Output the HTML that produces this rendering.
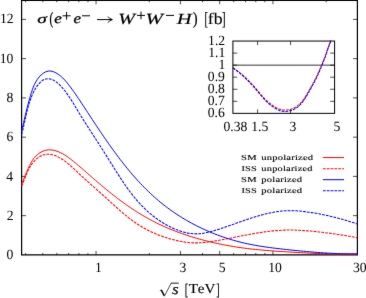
<!DOCTYPE html>
<html><head><meta charset="utf-8"><style>html,body{margin:0;padding:0;background:#fff;overflow:hidden;}svg{display:block;will-change:transform;}text{font-family:"Liberation Serif",serif;fill:#000;font-kerning:none;text-rendering:geometricPrecision;}</style></head><body>
<svg width="366" height="298" viewBox="0 0 366 298">
<defs><filter id="soft" x="0" y="0" width="366" height="298" filterUnits="userSpaceOnUse" color-interpolation-filters="sRGB"><feConvolveMatrix order="3" kernelMatrix="0.0049 0.0602 0.0049 0.0602 0.7396 0.0602 0.0049 0.0602 0.0049" divisor="1" edgeMode="duplicate" preserveAlpha="false"/></filter></defs>
<g filter="url(#soft)">
<rect x="-5" y="-5" width="376" height="308" fill="#fff"/>
<g fill="none" stroke="#000" stroke-width="1.20">
<path d="M21.60,-1.70 V254.90 H357.40 V0.30 H21.60"/>
</g><g fill="none" stroke="#000" stroke-width="0.7">
<path d="M21.60,215.65 h4.4 M357.40,215.65 h-4.4"/>
<path d="M21.60,176.40 h4.4 M357.40,176.40 h-4.4"/>
<path d="M21.60,137.15 h4.4 M357.40,137.15 h-4.4"/>
<path d="M21.60,97.90 h4.4 M357.40,97.90 h-4.4"/>
<path d="M21.60,58.65 h4.4 M357.40,58.65 h-4.4"/>
<path d="M21.60,19.40 h4.4 M357.40,19.40 h-4.4"/>
<path d="M25.65,254.90 v-2.00 M25.65,0.30 v2.00"/>
<path d="M42.80,254.90 v-2.00 M42.80,0.30 v2.00"/>
<path d="M56.80,254.90 v-2.00 M56.80,0.30 v2.00"/>
<path d="M68.65,254.90 v-2.00 M68.65,0.30 v2.00"/>
<path d="M78.91,254.90 v-2.00 M78.91,0.30 v2.00"/>
<path d="M87.96,254.90 v-2.00 M87.96,0.30 v2.00"/>
<path d="M96.05,254.90 v-4.00 M96.05,0.30 v4.00"/>
<path d="M149.30,254.90 v-2.00 M149.30,0.30 v2.00"/>
<path d="M180.45,254.90 v-4.00 M180.45,0.30 v4.00"/>
<path d="M202.55,254.90 v-2.00 M202.55,0.30 v2.00"/>
<path d="M219.70,254.90 v-4.00 M219.70,0.30 v4.00"/>
<path d="M233.70,254.90 v-2.00 M233.70,0.30 v2.00"/>
<path d="M245.55,254.90 v-2.00 M245.55,0.30 v2.00"/>
<path d="M255.81,254.90 v-2.00 M255.81,0.30 v2.00"/>
<path d="M264.86,254.90 v-2.00 M264.86,0.30 v2.00"/>
<path d="M272.95,254.90 v-4.00 M272.95,0.30 v4.00"/>
<path d="M326.20,254.90 v-2.00 M326.20,0.30 v2.00"/>
</g>
<g fill="none" stroke-width="1.00">
<path d="M21.60,184.10 C21.71,183.83 22.07,183.00 22.30,182.46 C22.53,181.92 22.75,181.38 22.97,180.85 C23.19,180.31 23.41,179.78 23.63,179.26 C23.85,178.73 24.06,178.21 24.28,177.69 C24.49,177.17 24.70,176.65 24.92,176.13 C25.13,175.62 25.34,175.11 25.56,174.59 C25.77,174.08 25.99,173.57 26.20,173.06 C26.42,172.54 26.64,172.03 26.86,171.52 C27.09,171.01 27.31,170.50 27.54,169.99 C27.77,169.47 28.00,168.96 28.24,168.44 C28.47,167.93 28.72,167.41 28.96,166.89 C29.21,166.37 29.47,165.85 29.73,165.33 C29.99,164.80 30.25,164.27 30.53,163.74 C30.80,163.21 31.09,162.67 31.38,162.14 C31.68,161.61 31.99,161.07 32.32,160.54 C32.65,160.01 32.99,159.48 33.36,158.96 C33.73,158.44 34.12,157.93 34.54,157.43 C34.95,156.92 35.39,156.43 35.87,155.95 C36.35,155.47 36.85,155.00 37.40,154.55 C37.94,154.10 38.52,153.66 39.14,153.25 C39.76,152.84 40.42,152.43 41.12,152.07 C41.82,151.70 42.57,151.35 43.33,151.05 C44.10,150.75 44.91,150.48 45.72,150.28 C46.54,150.08 47.38,149.93 48.23,149.85 C49.08,149.77 49.94,149.77 50.80,149.83 C51.66,149.88 52.53,150.02 53.38,150.19 C54.22,150.36 55.08,150.60 55.90,150.85 C56.72,151.10 57.53,151.40 58.31,151.71 C59.09,152.02 59.85,152.35 60.58,152.70 C61.32,153.05 62.03,153.42 62.72,153.80 C63.42,154.18 64.09,154.58 64.75,154.98 C65.40,155.39 66.04,155.81 66.67,156.24 C67.30,156.67 67.91,157.10 68.51,157.54 C69.11,157.98 69.69,158.43 70.28,158.87 C70.86,159.32 71.43,159.77 71.99,160.22 C72.56,160.67 73.11,161.11 73.67,161.56 C74.22,162.01 74.76,162.45 75.31,162.90 C75.85,163.34 76.38,163.79 76.92,164.23 C77.45,164.68 77.98,165.12 78.50,165.57 C79.03,166.01 79.55,166.46 80.06,166.90 C80.58,167.35 81.10,167.79 81.61,168.24 C82.13,168.68 82.64,169.12 83.15,169.57 C83.66,170.01 84.17,170.46 84.68,170.91 C85.19,171.35 85.70,171.80 86.21,172.24 C86.72,172.69 87.23,173.14 87.75,173.59 C88.26,174.03 88.77,174.48 89.28,174.93 C89.80,175.38 90.31,175.83 90.83,176.28 C91.34,176.73 91.86,177.18 92.38,177.63 C92.89,178.08 93.41,178.53 93.93,178.98 C94.45,179.43 94.97,179.88 95.49,180.33 C96.02,180.78 96.54,181.23 97.06,181.68 C97.59,182.13 98.11,182.58 98.64,183.03 C99.17,183.48 99.70,183.93 100.23,184.37 C100.76,184.82 101.29,185.27 101.82,185.72 C102.36,186.17 102.89,186.62 103.43,187.07 C103.96,187.52 104.50,187.96 105.04,188.41 C105.58,188.86 106.12,189.31 106.67,189.75 C107.21,190.20 107.76,190.64 108.30,191.09 C108.85,191.53 109.40,191.98 109.95,192.42 C110.50,192.87 111.06,193.31 111.61,193.75 C112.17,194.19 112.73,194.63 113.29,195.07 C113.85,195.51 114.41,195.95 114.97,196.39 C115.54,196.83 116.10,197.27 116.67,197.70 C117.24,198.14 117.81,198.58 118.39,199.01 C118.96,199.44 119.54,199.88 120.12,200.31 C120.70,200.74 121.28,201.17 121.86,201.60 C122.45,202.03 123.04,202.46 123.63,202.88 C124.22,203.31 124.81,203.73 125.41,204.16 C126.00,204.58 126.60,205.00 127.20,205.42 C127.80,205.84 128.41,206.26 129.02,206.68 C129.62,207.10 130.24,207.51 130.85,207.92 C131.46,208.34 132.08,208.75 132.70,209.16 C133.32,209.57 133.95,209.98 134.57,210.38 C135.20,210.79 135.83,211.19 136.46,211.60 C137.10,212.00 137.74,212.40 138.38,212.80 C139.02,213.19 139.66,213.59 140.31,213.98 C140.96,214.38 141.61,214.77 142.26,215.16 C142.92,215.55 143.58,215.93 144.24,216.32 C144.90,216.70 145.57,217.08 146.24,217.46 C146.91,217.84 147.59,218.22 148.26,218.60 C148.94,218.97 149.63,219.34 150.31,219.71 C151.00,220.08 151.69,220.45 152.38,220.81 C153.08,221.18 153.78,221.54 154.48,221.90 C155.18,222.26 155.89,222.61 156.60,222.97 C157.32,223.32 158.03,223.67 158.75,224.02 C159.47,224.36 160.20,224.71 160.93,225.05 C161.66,225.39 162.39,225.73 163.13,226.06 C163.87,226.40 164.61,226.73 165.36,227.06 C166.11,227.39 166.86,227.71 167.62,228.04 C168.38,228.36 169.14,228.68 169.90,228.99 C170.67,229.31 171.44,229.62 172.21,229.93 C172.99,230.24 173.76,230.55 174.55,230.85 C175.33,231.16 176.11,231.46 176.90,231.75 C177.69,232.05 178.49,232.35 179.28,232.64 C180.08,232.93 180.88,233.21 181.69,233.50 C182.49,233.78 183.30,234.06 184.12,234.34 C184.93,234.62 185.75,234.89 186.56,235.17 C187.38,235.44 188.21,235.70 189.03,235.97 C189.86,236.23 190.69,236.50 191.52,236.75 C192.36,237.01 193.19,237.27 194.03,237.52 C194.87,237.77 195.72,238.02 196.56,238.26 C197.41,238.51 198.26,238.75 199.11,238.99 C199.96,239.23 200.81,239.46 201.67,239.70 C202.53,239.93 203.39,240.16 204.25,240.38 C205.11,240.61 205.98,240.83 206.85,241.05 C207.72,241.26 208.59,241.48 209.46,241.69 C210.34,241.90 211.21,242.11 212.09,242.31 C212.97,242.52 213.85,242.72 214.73,242.92 C215.61,243.12 216.50,243.31 217.39,243.50 C218.27,243.69 219.16,243.88 220.06,244.06 C220.95,244.25 221.84,244.43 222.74,244.61 C223.63,244.78 224.53,244.96 225.43,245.13 C226.33,245.30 227.23,245.46 228.13,245.63 C229.04,245.79 229.94,245.95 230.85,246.11 C231.75,246.26 232.66,246.41 233.57,246.56 C234.48,246.71 235.39,246.86 236.30,247.00 C237.21,247.14 238.13,247.28 239.04,247.41 C239.96,247.55 240.87,247.68 241.79,247.81 C242.71,247.93 243.63,248.06 244.55,248.18 C245.47,248.30 246.39,248.41 247.31,248.53 C248.23,248.64 249.15,248.75 250.08,248.86 C251.00,248.96 251.92,249.07 252.85,249.17 C253.78,249.27 254.70,249.36 255.63,249.46 C256.56,249.55 257.49,249.65 258.41,249.73 C259.34,249.82 260.27,249.91 261.21,249.99 C262.14,250.08 263.07,250.16 264.00,250.24 C264.93,250.32 265.87,250.40 266.80,250.47 C267.73,250.55 268.67,250.62 269.60,250.69 C270.54,250.76 271.48,250.83 272.41,250.90 C273.35,250.97 274.29,251.04 275.23,251.10 C276.16,251.17 277.10,251.23 278.04,251.29 C278.98,251.36 279.92,251.42 280.86,251.48 C281.80,251.54 282.74,251.60 283.68,251.66 C284.63,251.72 285.57,251.77 286.51,251.83 C287.45,251.89 288.39,251.94 289.34,252.00 C290.28,252.06 291.23,252.11 292.17,252.17 C293.11,252.22 294.06,252.28 295.00,252.33 C295.95,252.39 296.89,252.44 297.84,252.50 C298.78,252.55 299.73,252.60 300.67,252.65 C301.62,252.71 302.57,252.76 303.51,252.81 C304.46,252.86 305.41,252.91 306.35,252.96 C307.30,253.01 308.25,253.05 309.19,253.10 C310.14,253.15 311.09,253.19 312.03,253.24 C312.98,253.28 313.93,253.33 314.88,253.37 C315.82,253.41 316.77,253.46 317.72,253.50 C318.67,253.54 319.61,253.58 320.56,253.61 C321.51,253.65 322.46,253.69 323.40,253.72 C324.35,253.76 325.30,253.79 326.24,253.82 C327.19,253.86 328.14,253.89 329.09,253.92 C330.03,253.94 330.98,253.97 331.93,254.00 C332.87,254.02 333.82,254.05 334.76,254.07 C335.71,254.09 336.66,254.11 337.60,254.13 C338.55,254.15 339.49,254.17 340.44,254.18 C341.38,254.20 342.33,254.21 343.27,254.22 C344.21,254.23 345.16,254.24 346.10,254.24 C347.04,254.25 347.99,254.26 348.93,254.26 C349.87,254.26 350.81,254.26 351.76,254.26 C352.70,254.25 353.64,254.25 354.58,254.24 C355.52,254.24 356.93,254.22 357.40,254.21" stroke="#f00"/>
<path d="M21.60,186.10 C21.72,185.83 22.11,185.02 22.35,184.48 C22.59,183.94 22.82,183.40 23.05,182.87 C23.27,182.33 23.48,181.80 23.69,181.27 C23.91,180.74 24.11,180.21 24.31,179.69 C24.51,179.16 24.71,178.64 24.91,178.12 C25.11,177.59 25.30,177.07 25.50,176.55 C25.70,176.03 25.90,175.51 26.10,174.99 C26.31,174.47 26.52,173.96 26.73,173.44 C26.95,172.92 27.17,172.41 27.40,171.89 C27.63,171.37 27.87,170.86 28.12,170.34 C28.37,169.83 28.63,169.31 28.90,168.80 C29.17,168.28 29.46,167.76 29.76,167.25 C30.07,166.73 30.39,166.21 30.72,165.69 C31.06,165.18 31.41,164.66 31.79,164.14 C32.17,163.62 32.56,163.10 32.98,162.58 C33.40,162.06 33.84,161.55 34.31,161.05 C34.77,160.54 35.27,160.04 35.79,159.56 C36.31,159.08 36.85,158.61 37.43,158.17 C38.01,157.72 38.62,157.28 39.26,156.88 C39.90,156.47 40.57,156.08 41.28,155.73 C41.99,155.39 42.73,155.07 43.51,154.84 C44.30,154.60 45.12,154.43 45.97,154.34 C46.81,154.24 47.70,154.23 48.58,154.27 C49.46,154.31 50.37,154.42 51.25,154.57 C52.12,154.73 53.01,154.94 53.85,155.19 C54.69,155.43 55.50,155.73 56.28,156.05 C57.06,156.37 57.80,156.73 58.52,157.11 C59.24,157.48 59.93,157.88 60.61,158.29 C61.28,158.69 61.93,159.11 62.56,159.53 C63.20,159.96 63.81,160.38 64.41,160.82 C65.02,161.25 65.60,161.68 66.18,162.12 C66.75,162.56 67.31,163.01 67.86,163.46 C68.41,163.90 68.94,164.36 69.47,164.81 C70.00,165.26 70.52,165.72 71.03,166.18 C71.55,166.64 72.05,167.10 72.55,167.56 C73.05,168.02 73.55,168.49 74.04,168.95 C74.53,169.41 75.02,169.88 75.51,170.34 C76.00,170.81 76.48,171.27 76.97,171.73 C77.46,172.20 77.95,172.66 78.44,173.12 C78.93,173.58 79.42,174.05 79.92,174.51 C80.41,174.97 80.91,175.42 81.41,175.88 C81.91,176.34 82.40,176.80 82.91,177.26 C83.41,177.71 83.91,178.17 84.41,178.63 C84.91,179.08 85.42,179.54 85.92,179.99 C86.43,180.45 86.94,180.90 87.44,181.36 C87.95,181.81 88.46,182.26 88.97,182.72 C89.48,183.17 89.99,183.62 90.50,184.08 C91.01,184.53 91.52,184.98 92.03,185.44 C92.54,185.89 93.06,186.34 93.57,186.80 C94.08,187.25 94.60,187.70 95.11,188.16 C95.62,188.61 96.14,189.06 96.65,189.52 C97.16,189.97 97.68,190.43 98.19,190.88 C98.70,191.33 99.22,191.79 99.73,192.25 C100.24,192.70 100.75,193.16 101.27,193.61 C101.78,194.07 102.29,194.53 102.80,194.99 C103.31,195.44 103.83,195.90 104.34,196.36 C104.85,196.82 105.36,197.28 105.87,197.74 C106.37,198.20 106.88,198.67 107.39,199.13 C107.90,199.59 108.40,200.06 108.91,200.52 C109.42,200.98 109.92,201.45 110.43,201.92 C110.94,202.38 111.44,202.85 111.95,203.31 C112.46,203.78 112.97,204.24 113.47,204.71 C113.98,205.17 114.49,205.64 115.01,206.10 C115.52,206.57 116.03,207.03 116.54,207.50 C117.06,207.96 117.57,208.42 118.09,208.88 C118.61,209.35 119.13,209.81 119.66,210.27 C120.18,210.73 120.71,211.19 121.23,211.64 C121.76,212.10 122.29,212.56 122.83,213.01 C123.37,213.46 123.90,213.92 124.45,214.37 C124.99,214.82 125.54,215.27 126.09,215.71 C126.64,216.16 127.19,216.60 127.75,217.05 C128.31,217.49 128.87,217.93 129.44,218.36 C130.01,218.80 130.58,219.24 131.16,219.67 C131.74,220.10 132.33,220.53 132.92,220.95 C133.51,221.38 134.10,221.80 134.71,222.22 C135.31,222.64 135.92,223.05 136.53,223.46 C137.15,223.88 137.77,224.28 138.40,224.69 C139.02,225.09 139.66,225.49 140.30,225.89 C140.95,226.28 141.60,226.68 142.25,227.06 C142.91,227.45 143.58,227.83 144.25,228.21 C144.93,228.59 145.61,228.97 146.30,229.34 C146.99,229.70 147.69,230.07 148.40,230.43 C149.10,230.79 149.82,231.14 150.55,231.49 C151.27,231.84 152.01,232.18 152.75,232.52 C153.50,232.86 154.25,233.19 155.01,233.51 C155.78,233.84 156.55,234.16 157.32,234.48 C158.10,234.79 158.89,235.10 159.68,235.40 C160.48,235.70 161.28,236.00 162.09,236.29 C162.90,236.57 163.72,236.86 164.55,237.13 C165.37,237.41 166.21,237.68 167.05,237.94 C167.88,238.20 168.73,238.45 169.59,238.70 C170.44,238.95 171.30,239.19 172.17,239.42 C173.03,239.65 173.91,239.88 174.78,240.09 C175.66,240.31 176.55,240.51 177.44,240.71 C178.33,240.91 179.22,241.09 180.12,241.27 C181.02,241.44 181.93,241.61 182.83,241.75 C183.74,241.90 184.65,242.04 185.57,242.17 C186.49,242.29 187.41,242.40 188.33,242.49 C189.25,242.58 190.18,242.66 191.10,242.72 C192.03,242.79 192.96,242.83 193.89,242.86 C194.83,242.88 195.76,242.89 196.70,242.88 C197.63,242.87 198.57,242.84 199.50,242.80 C200.44,242.75 201.38,242.69 202.32,242.62 C203.25,242.55 204.19,242.46 205.13,242.36 C206.07,242.26 207.00,242.15 207.94,242.03 C208.87,241.91 209.81,241.78 210.74,241.64 C211.67,241.50 212.61,241.35 213.53,241.20 C214.46,241.05 215.39,240.89 216.32,240.73 C217.24,240.57 218.16,240.41 219.08,240.24 C220.00,240.08 220.91,239.91 221.83,239.74 C222.74,239.57 223.65,239.39 224.56,239.22 C225.46,239.05 226.37,238.87 227.27,238.70 C228.18,238.52 229.08,238.34 229.98,238.17 C230.88,237.99 231.78,237.81 232.68,237.63 C233.58,237.46 234.47,237.28 235.37,237.10 C236.27,236.92 237.16,236.74 238.06,236.57 C238.95,236.39 239.85,236.21 240.74,236.04 C241.63,235.86 242.53,235.69 243.42,235.51 C244.32,235.34 245.21,235.17 246.11,235.00 C247.00,234.83 247.90,234.66 248.80,234.50 C249.70,234.33 250.59,234.17 251.49,234.01 C252.39,233.84 253.29,233.69 254.20,233.53 C255.10,233.38 256.00,233.22 256.91,233.07 C257.82,232.93 258.73,232.78 259.64,232.64 C260.55,232.50 261.46,232.36 262.38,232.23 C263.29,232.09 264.21,231.96 265.13,231.84 C266.05,231.71 266.98,231.60 267.90,231.48 C268.83,231.37 269.75,231.26 270.68,231.16 C271.61,231.05 272.54,230.95 273.47,230.86 C274.40,230.77 275.34,230.69 276.27,230.61 C277.21,230.53 278.15,230.46 279.08,230.40 C280.02,230.34 280.96,230.28 281.90,230.23 C282.84,230.18 283.78,230.14 284.73,230.11 C285.67,230.08 286.61,230.06 287.56,230.04 C288.50,230.03 289.45,230.02 290.39,230.02 C291.34,230.03 292.29,230.04 293.24,230.06 C294.18,230.08 295.13,230.11 296.08,230.15 C297.03,230.19 297.98,230.23 298.92,230.28 C299.87,230.33 300.82,230.39 301.77,230.45 C302.72,230.51 303.67,230.57 304.62,230.64 C305.57,230.71 306.52,230.78 307.46,230.86 C308.41,230.93 309.36,231.01 310.31,231.10 C311.26,231.18 312.20,231.27 313.15,231.35 C314.10,231.44 315.04,231.54 315.99,231.63 C316.93,231.73 317.88,231.83 318.82,231.93 C319.76,232.03 320.70,232.13 321.65,232.24 C322.59,232.35 323.53,232.46 324.47,232.57 C325.40,232.69 326.34,232.80 327.28,232.92 C328.21,233.04 329.15,233.16 330.08,233.29 C331.01,233.41 331.94,233.54 332.87,233.67 C333.80,233.80 334.73,233.93 335.65,234.07 C336.58,234.20 337.50,234.34 338.42,234.48 C339.35,234.62 340.27,234.76 341.18,234.91 C342.10,235.05 343.01,235.20 343.93,235.35 C344.84,235.49 345.75,235.65 346.65,235.80 C347.56,235.95 348.46,236.11 349.37,236.26 C350.27,236.42 351.17,236.58 352.06,236.74 C352.96,236.90 353.85,237.07 354.74,237.23 C355.63,237.40 356.96,237.65 357.40,237.73" stroke="#f00" stroke-width="1.05" stroke-dasharray="2.8 1.06"/>
<path d="M21.60,131.00 C21.71,130.52 22.07,129.08 22.30,128.13 C22.53,127.18 22.75,126.24 22.97,125.31 C23.19,124.37 23.41,123.45 23.63,122.53 C23.85,121.61 24.06,120.69 24.28,119.78 C24.49,118.87 24.70,117.96 24.92,117.06 C25.13,116.16 25.34,115.26 25.56,114.36 C25.77,113.46 25.99,112.57 26.20,111.67 C26.42,110.78 26.64,109.88 26.86,108.99 C27.09,108.09 27.31,107.20 27.54,106.30 C27.77,105.40 28.00,104.51 28.24,103.60 C28.47,102.70 28.72,101.80 28.96,100.89 C29.21,99.98 29.47,99.06 29.73,98.15 C29.99,97.23 30.25,96.30 30.53,95.37 C30.80,94.44 31.09,93.50 31.38,92.57 C31.68,91.64 31.99,90.70 32.32,89.77 C32.65,88.85 32.99,87.92 33.36,87.01 C33.73,86.10 34.12,85.20 34.54,84.32 C34.95,83.44 35.39,82.57 35.87,81.74 C36.35,80.90 36.85,80.08 37.40,79.29 C37.94,78.50 38.52,77.74 39.14,77.01 C39.76,76.29 40.42,75.58 41.12,74.94 C41.82,74.30 42.57,73.68 43.33,73.16 C44.10,72.64 44.91,72.17 45.72,71.82 C46.54,71.47 47.38,71.20 48.23,71.06 C49.08,70.93 49.94,70.92 50.80,71.02 C51.66,71.12 52.53,71.36 53.38,71.66 C54.22,71.96 55.08,72.37 55.90,72.81 C56.72,73.26 57.53,73.78 58.31,74.32 C59.09,74.86 59.85,75.44 60.58,76.05 C61.32,76.66 62.03,77.31 62.72,77.97 C63.42,78.64 64.09,79.34 64.75,80.05 C65.40,80.76 66.04,81.50 66.67,82.24 C67.30,82.99 67.91,83.75 68.51,84.52 C69.11,85.29 69.69,86.08 70.28,86.86 C70.86,87.64 71.43,88.42 71.99,89.21 C72.56,89.99 73.11,90.77 73.67,91.55 C74.22,92.34 74.76,93.12 75.31,93.90 C75.85,94.68 76.38,95.45 76.92,96.23 C77.45,97.01 77.98,97.79 78.50,98.57 C79.03,99.35 79.55,100.12 80.06,100.90 C80.58,101.68 81.10,102.46 81.61,103.24 C82.13,104.01 82.64,104.79 83.15,105.57 C83.66,106.35 84.17,107.13 84.68,107.91 C85.19,108.69 85.70,109.47 86.21,110.25 C86.72,111.04 87.23,111.82 87.75,112.60 C88.26,113.38 88.77,114.17 89.28,114.95 C89.80,115.74 90.31,116.52 90.83,117.31 C91.34,118.10 91.86,118.88 92.38,119.67 C92.89,120.46 93.41,121.24 93.93,122.03 C94.45,122.82 94.97,123.61 95.49,124.39 C96.02,125.18 96.54,125.97 97.06,126.76 C97.59,127.55 98.11,128.33 98.64,129.12 C99.17,129.91 99.70,130.69 100.23,131.48 C100.76,132.27 101.29,133.05 101.82,133.84 C102.36,134.62 102.89,135.41 103.43,136.19 C103.96,136.98 104.50,137.76 105.04,138.55 C105.58,139.33 106.12,140.11 106.67,140.89 C107.21,141.67 107.76,142.45 108.30,143.23 C108.85,144.01 109.40,144.79 109.95,145.56 C110.50,146.34 111.06,147.11 111.61,147.89 C112.17,148.66 112.73,149.43 113.29,150.20 C113.85,150.98 114.41,151.74 114.97,152.51 C115.54,153.28 116.10,154.04 116.67,154.81 C117.24,155.57 117.81,156.33 118.39,157.09 C118.96,157.85 119.54,158.61 120.12,159.36 C120.70,160.12 121.28,160.87 121.86,161.62 C122.45,162.38 123.04,163.12 123.63,163.87 C124.22,164.62 124.81,165.36 125.41,166.10 C126.00,166.84 126.60,167.58 127.20,168.31 C127.80,169.05 128.41,169.78 129.02,170.51 C129.62,171.24 130.24,171.97 130.85,172.69 C131.46,173.42 132.08,174.14 132.70,174.85 C133.32,175.57 133.95,176.28 134.57,177.00 C135.20,177.71 135.83,178.41 136.46,179.12 C137.10,179.82 137.74,180.52 138.38,181.22 C139.02,181.91 139.66,182.61 140.31,183.30 C140.96,183.98 141.61,184.67 142.26,185.35 C142.92,186.03 143.58,186.71 144.24,187.38 C144.90,188.05 145.57,188.72 146.24,189.39 C146.91,190.05 147.59,190.71 148.26,191.37 C148.94,192.02 149.63,192.68 150.31,193.32 C151.00,193.97 151.69,194.61 152.38,195.25 C153.08,195.89 153.78,196.52 154.48,197.15 C155.18,197.77 155.89,198.40 156.60,199.01 C157.32,199.63 158.03,200.25 158.75,200.85 C159.47,201.46 160.20,202.06 160.93,202.66 C161.66,203.26 162.39,203.85 163.13,204.44 C163.87,205.02 164.61,205.60 165.36,206.18 C166.11,206.75 166.86,207.32 167.62,207.89 C168.38,208.45 169.14,209.01 169.90,209.56 C170.67,210.12 171.44,210.67 172.21,211.21 C172.99,211.75 173.76,212.29 174.55,212.82 C175.33,213.35 176.11,213.87 176.90,214.39 C177.69,214.91 178.49,215.43 179.28,215.94 C180.08,216.45 180.88,216.95 181.69,217.45 C182.49,217.94 183.30,218.44 184.12,218.92 C184.93,219.41 185.75,219.89 186.56,220.36 C187.38,220.84 188.21,221.31 189.03,221.77 C189.86,222.24 190.69,222.69 191.52,223.14 C192.36,223.60 193.19,224.04 194.03,224.48 C194.87,224.92 195.72,225.36 196.56,225.79 C197.41,226.22 198.26,226.64 199.11,227.06 C199.96,227.47 200.81,227.89 201.67,228.29 C202.53,228.70 203.39,229.10 204.25,229.49 C205.11,229.88 205.98,230.27 206.85,230.65 C207.72,231.04 208.59,231.41 209.46,231.78 C210.34,232.15 211.21,232.52 212.09,232.88 C212.97,233.23 213.85,233.59 214.73,233.93 C215.61,234.28 216.50,234.62 217.39,234.95 C218.27,235.29 219.16,235.62 220.06,235.94 C220.95,236.26 221.84,236.58 222.74,236.89 C223.63,237.20 224.53,237.50 225.43,237.80 C226.33,238.10 227.23,238.39 228.13,238.67 C229.04,238.96 229.94,239.24 230.85,239.51 C231.75,239.78 232.66,240.05 233.57,240.31 C234.48,240.57 235.39,240.83 236.30,241.07 C237.21,241.32 238.13,241.56 239.04,241.80 C239.96,242.03 240.87,242.26 241.79,242.49 C242.71,242.71 243.63,242.93 244.55,243.14 C245.47,243.35 246.39,243.55 247.31,243.75 C248.23,243.95 249.15,244.14 250.08,244.32 C251.00,244.51 251.92,244.69 252.85,244.87 C253.78,245.04 254.70,245.21 255.63,245.38 C256.56,245.54 257.49,245.70 258.41,245.86 C259.34,246.02 260.27,246.17 261.21,246.32 C262.14,246.46 263.07,246.61 264.00,246.74 C264.93,246.88 265.87,247.02 266.80,247.15 C267.73,247.28 268.67,247.41 269.60,247.54 C270.54,247.66 271.48,247.78 272.41,247.90 C273.35,248.02 274.29,248.14 275.23,248.25 C276.16,248.37 277.10,248.48 278.04,248.59 C278.98,248.70 279.92,248.81 280.86,248.91 C281.80,249.02 282.74,249.12 283.68,249.23 C284.63,249.33 285.57,249.43 286.51,249.53 C287.45,249.63 288.39,249.73 289.34,249.83 C290.28,249.93 291.23,250.02 292.17,250.12 C293.11,250.22 294.06,250.31 295.00,250.41 C295.95,250.50 296.89,250.60 297.84,250.69 C298.78,250.79 299.73,250.88 300.67,250.97 C301.62,251.06 302.57,251.15 303.51,251.24 C304.46,251.33 305.41,251.42 306.35,251.50 C307.30,251.59 308.25,251.67 309.19,251.75 C310.14,251.84 311.09,251.92 312.03,251.99 C312.98,252.07 313.93,252.15 314.88,252.23 C315.82,252.30 316.77,252.37 317.72,252.44 C318.67,252.51 319.61,252.58 320.56,252.65 C321.51,252.72 322.46,252.78 323.40,252.84 C324.35,252.90 325.30,252.96 326.24,253.02 C327.19,253.07 328.14,253.13 329.09,253.18 C330.03,253.23 330.98,253.28 331.93,253.32 C332.87,253.37 333.82,253.41 334.76,253.45 C335.71,253.49 336.66,253.52 337.60,253.55 C338.55,253.59 339.49,253.62 340.44,253.64 C341.38,253.67 342.33,253.69 343.27,253.71 C344.21,253.73 345.16,253.74 346.10,253.75 C347.04,253.76 347.99,253.77 348.93,253.78 C349.87,253.78 350.81,253.78 351.76,253.78 C352.70,253.77 353.64,253.76 354.58,253.75 C355.52,253.74 356.93,253.71 357.40,253.70" stroke="#00f"/>
<path d="M21.60,134.50 C21.72,134.03 22.11,132.60 22.35,131.66 C22.59,130.72 22.82,129.78 23.05,128.84 C23.27,127.91 23.48,126.98 23.69,126.05 C23.91,125.12 24.11,124.20 24.31,123.28 C24.51,122.36 24.71,121.44 24.91,120.53 C25.11,119.61 25.30,118.70 25.50,117.79 C25.70,116.88 25.90,115.97 26.10,115.06 C26.31,114.15 26.52,113.25 26.73,112.34 C26.95,111.44 27.17,110.54 27.40,109.63 C27.63,108.73 27.87,107.83 28.12,106.92 C28.37,106.02 28.63,105.12 28.90,104.22 C29.17,103.31 29.46,102.41 29.76,101.51 C30.07,100.60 30.39,99.70 30.72,98.79 C31.06,97.88 31.41,96.97 31.79,96.07 C32.17,95.16 32.56,94.24 32.98,93.34 C33.40,92.44 33.84,91.53 34.31,90.66 C34.77,89.78 35.27,88.90 35.79,88.06 C36.31,87.22 36.85,86.40 37.43,85.62 C38.01,84.83 38.62,84.07 39.26,83.36 C39.90,82.65 40.57,81.96 41.28,81.36 C41.99,80.76 42.73,80.19 43.51,79.79 C44.30,79.38 45.12,79.08 45.97,78.91 C46.81,78.75 47.70,78.72 48.58,78.79 C49.46,78.86 50.37,79.06 51.25,79.33 C52.12,79.60 53.01,79.97 53.85,80.40 C54.69,80.84 55.50,81.36 56.28,81.92 C57.06,82.48 57.80,83.11 58.52,83.76 C59.24,84.41 59.93,85.12 60.61,85.83 C61.28,86.54 61.93,87.27 62.56,88.01 C63.20,88.75 63.81,89.50 64.41,90.25 C65.02,91.01 65.60,91.77 66.18,92.54 C66.75,93.31 67.31,94.09 67.86,94.88 C68.41,95.66 68.94,96.45 69.47,97.24 C70.00,98.04 70.52,98.84 71.03,99.64 C71.55,100.44 72.05,101.25 72.55,102.06 C73.05,102.86 73.55,103.67 74.04,104.49 C74.53,105.30 75.02,106.11 75.51,106.92 C76.00,107.74 76.48,108.55 76.97,109.36 C77.46,110.17 77.95,110.98 78.44,111.79 C78.93,112.60 79.42,113.40 79.92,114.21 C80.41,115.01 80.91,115.82 81.41,116.62 C81.91,117.42 82.40,118.22 82.91,119.02 C83.41,119.82 83.91,120.62 84.41,121.42 C84.91,122.22 85.42,123.01 85.92,123.81 C86.43,124.61 86.94,125.40 87.44,126.20 C87.95,126.99 88.46,127.79 88.97,128.58 C89.48,129.37 89.99,130.17 90.50,130.96 C91.01,131.75 91.52,132.55 92.03,133.34 C92.54,134.13 93.06,134.92 93.57,135.72 C94.08,136.51 94.60,137.30 95.11,138.10 C95.62,138.89 96.14,139.69 96.65,140.48 C97.16,141.27 97.68,142.07 98.19,142.86 C98.70,143.66 99.22,144.46 99.73,145.25 C100.24,146.05 100.75,146.85 101.27,147.65 C101.78,148.45 102.29,149.25 102.80,150.05 C103.31,150.85 103.83,151.65 104.34,152.46 C104.85,153.26 105.36,154.07 105.87,154.87 C106.37,155.68 106.88,156.49 107.39,157.30 C107.90,158.11 108.40,158.92 108.91,159.74 C109.42,160.55 109.92,161.36 110.43,162.18 C110.94,162.99 111.44,163.81 111.95,164.62 C112.46,165.43 112.97,166.25 113.47,167.06 C113.98,167.88 114.49,168.69 115.01,169.51 C115.52,170.32 116.03,171.13 116.54,171.94 C117.06,172.75 117.57,173.56 118.09,174.37 C118.61,175.18 119.13,175.99 119.66,176.79 C120.18,177.60 120.71,178.40 121.23,179.20 C121.76,180.00 122.29,180.80 122.83,181.59 C123.37,182.39 123.90,183.18 124.45,183.97 C124.99,184.76 125.54,185.54 126.09,186.32 C126.64,187.11 127.19,187.88 127.75,188.66 C128.31,189.43 128.87,190.20 129.44,190.96 C130.01,191.73 130.58,192.49 131.16,193.24 C131.74,194.00 132.33,194.75 132.92,195.49 C133.51,196.24 134.10,196.97 134.71,197.71 C135.31,198.44 135.92,199.17 136.53,199.89 C137.15,200.61 137.77,201.32 138.40,202.03 C139.02,202.74 139.66,203.44 140.30,204.13 C140.95,204.82 141.60,205.51 142.25,206.19 C142.91,206.87 143.58,207.54 144.25,208.20 C144.93,208.86 145.61,209.52 146.30,210.16 C146.99,210.81 147.69,211.44 148.40,212.07 C149.10,212.70 149.82,213.32 150.55,213.93 C151.27,214.54 152.01,215.14 152.75,215.73 C153.50,216.32 154.25,216.90 155.01,217.48 C155.78,218.05 156.55,218.61 157.32,219.16 C158.10,219.71 158.89,220.25 159.68,220.77 C160.48,221.30 161.28,221.82 162.09,222.32 C162.90,222.83 163.72,223.32 164.55,223.81 C165.37,224.29 166.21,224.76 167.05,225.22 C167.88,225.67 168.73,226.12 169.59,226.55 C170.44,226.98 171.30,227.40 172.17,227.81 C173.03,228.21 173.91,228.61 174.78,228.98 C175.66,229.36 176.55,229.72 177.44,230.07 C178.33,230.41 179.22,230.74 180.12,231.04 C181.02,231.35 181.93,231.63 182.83,231.90 C183.74,232.16 184.65,232.40 185.57,232.62 C186.49,232.83 187.41,233.02 188.33,233.19 C189.25,233.35 190.18,233.49 191.10,233.59 C192.03,233.70 192.96,233.78 193.89,233.83 C194.83,233.87 195.76,233.88 196.70,233.87 C197.63,233.85 198.57,233.80 199.50,233.72 C200.44,233.64 201.38,233.53 202.32,233.40 C203.25,233.27 204.19,233.11 205.13,232.94 C206.07,232.76 207.00,232.56 207.94,232.34 C208.87,232.13 209.81,231.89 210.74,231.65 C211.67,231.40 212.61,231.14 213.53,230.87 C214.46,230.60 215.39,230.32 216.32,230.03 C217.24,229.75 218.16,229.45 219.08,229.16 C220.00,228.86 220.91,228.56 221.83,228.26 C222.74,227.96 223.65,227.65 224.56,227.34 C225.46,227.03 226.37,226.72 227.27,226.40 C228.18,226.09 229.08,225.77 229.98,225.46 C230.88,225.14 231.78,224.82 232.68,224.50 C233.58,224.19 234.47,223.87 235.37,223.55 C236.27,223.23 237.16,222.91 238.06,222.59 C238.95,222.28 239.85,221.96 240.74,221.64 C241.63,221.33 242.53,221.02 243.42,220.71 C244.32,220.40 245.21,220.09 246.11,219.78 C247.00,219.48 247.90,219.17 248.80,218.88 C249.70,218.58 250.59,218.28 251.49,217.99 C252.39,217.70 253.29,217.42 254.20,217.14 C255.10,216.85 256.00,216.58 256.91,216.31 C257.82,216.04 258.73,215.78 259.64,215.52 C260.55,215.26 261.46,215.01 262.38,214.77 C263.29,214.53 264.21,214.29 265.13,214.06 C266.05,213.84 266.98,213.62 267.90,213.41 C268.83,213.20 269.75,213.00 270.68,212.81 C271.61,212.62 272.54,212.44 273.47,212.27 C274.40,212.11 275.34,211.95 276.27,211.80 C277.21,211.66 278.15,211.53 279.08,211.41 C280.02,211.29 280.96,211.18 281.90,211.09 C282.84,211.00 283.78,210.92 284.73,210.85 C285.67,210.79 286.61,210.74 287.56,210.70 C288.50,210.67 289.45,210.65 290.39,210.65 C291.34,210.65 292.29,210.67 293.24,210.70 C294.18,210.73 295.13,210.77 296.08,210.83 C297.03,210.89 297.98,210.96 298.92,211.04 C299.87,211.12 300.82,211.21 301.77,211.31 C302.72,211.41 303.67,211.52 304.62,211.64 C305.57,211.76 306.52,211.88 307.46,212.01 C308.41,212.13 309.36,212.27 310.31,212.41 C311.26,212.55 312.20,212.70 313.15,212.85 C314.10,213.00 315.04,213.16 315.99,213.32 C316.93,213.48 317.88,213.65 318.82,213.83 C319.76,214.00 320.70,214.18 321.65,214.37 C322.59,214.56 323.53,214.75 324.47,214.94 C325.40,215.14 326.34,215.34 327.28,215.55 C328.21,215.76 329.15,215.97 330.08,216.18 C331.01,216.40 331.94,216.62 332.87,216.85 C333.80,217.08 334.73,217.31 335.65,217.54 C336.58,217.78 337.50,218.02 338.42,218.26 C339.35,218.51 340.27,218.76 341.18,219.01 C342.10,219.26 343.01,219.52 343.93,219.78 C344.84,220.04 345.75,220.31 346.65,220.58 C347.56,220.85 348.46,221.12 349.37,221.40 C350.27,221.68 351.17,221.96 352.06,222.25 C352.96,222.53 353.85,222.82 354.74,223.11 C355.63,223.40 356.96,223.85 357.40,224.00" stroke="#00f" stroke-width="1.05" stroke-dasharray="2.8 1.06"/>
</g>
<text transform="translate(6.58,259.10) scale(0.970,1)" font-size="14.1">0</text>
<text transform="translate(6.82,219.85) scale(0.970,1)" font-size="14.1">2</text>
<text transform="translate(6.28,180.60) scale(0.970,1)" font-size="14.1">4</text>
<text transform="translate(6.47,141.35) scale(0.970,1)" font-size="14.1">6</text>
<text transform="translate(6.58,102.10) scale(0.970,1)" font-size="14.1">8</text>
<text transform="translate(-0.26,62.85) scale(0.970,1)" font-size="14.1">10</text>
<text transform="translate(-0.02,23.00) scale(0.970,1)" font-size="14.1">12</text>
<text transform="translate(94.94,272.30) scale(0.970,1)" font-size="14.1">1</text>
<text transform="translate(179.47,272.30) scale(0.970,1)" font-size="14.1">3</text>
<text transform="translate(218.65,272.30) scale(0.970,1)" font-size="14.1">5</text>
<text transform="translate(268.27,272.30) scale(0.970,1)" font-size="14.1">10</text>
<text transform="translate(352.95,272.30) scale(0.970,1)" font-size="14.1">30</text>
<g fill="none" stroke="#000"><path d="M159.8,290.9 L161.3,290.0" stroke-width="0.6"/><path d="M161.2,289.9 L164.2,295.7" stroke-width="1.5"/><path d="M164.3,296.3 L171.2,283.1" stroke-width="0.7"/><path d="M170.9,283.15 H178.8" stroke-width="0.9"/></g>
<text transform="translate(171.89,293.66) scale(0.1731,0.1476)" font-size="100" font-style="italic" stroke="#000" stroke-width="0.94" stroke-linejoin="round">s</text>
<text transform="translate(184.63,294.52) scale(0.1033,0.1631)" font-size="100" stroke="#000" stroke-width="1.13" stroke-linejoin="round">[</text>
<text transform="translate(188.63,293.49) scale(0.1511,0.1373)" font-size="100" stroke="#000" stroke-width="1.04" stroke-linejoin="round">TeV</text>
<text transform="translate(216.13,294.52) scale(0.1033,0.1631)" font-size="100" stroke="#000" stroke-width="1.13" stroke-linejoin="round">]</text>
<text transform="translate(37.13,23.37) scale(0.1919,0.1332)" font-size="100" font-style="italic" stroke="#000" stroke-width="2.15" stroke-linejoin="round">σ</text>
<text transform="translate(49.42,23.94) scale(0.1090,0.1720)" font-size="100" stroke="#000" stroke-width="2.13" stroke-linejoin="round">(</text>
<text transform="translate(54.28,23.46) scale(0.1690,0.1435)" font-size="100" font-style="italic" stroke="#000" stroke-width="2.24" stroke-linejoin="round">e</text>
<text transform="translate(73.48,23.46) scale(0.1690,0.1435)" font-size="100" font-style="italic" stroke="#000" stroke-width="2.24" stroke-linejoin="round">e</text>
<text transform="translate(118.28,23.67) scale(0.2005,0.1552)" font-size="100" font-style="italic" stroke="#000" stroke-width="1.12" stroke-linejoin="round">W</text>
<text transform="translate(145.52,23.67) scale(0.2088,0.1552)" font-size="100" font-style="italic" stroke="#000" stroke-width="1.10" stroke-linejoin="round">W</text>
<text transform="translate(176.72,23.70) scale(0.2057,0.1542)" font-size="100" font-style="italic" stroke="#000" stroke-width="1.11" stroke-linejoin="round">H</text>
<text transform="translate(192.96,23.94) scale(0.1363,0.1720)" font-size="100" stroke="#000" stroke-width="1.95" stroke-linejoin="round">)</text>
<text transform="translate(204.53,25.01) scale(0.1033,0.1861)" font-size="100" stroke="#000" stroke-width="1.04" stroke-linejoin="round">[</text>
<text transform="translate(207.86,23.70) scale(0.1754,0.1605)" font-size="100" stroke="#000" stroke-width="0.60" stroke-linejoin="round">f</text>
<text transform="translate(213.70,23.74) scale(0.1775,0.1620)" font-size="100" stroke="#000" stroke-width="0.59" stroke-linejoin="round">b</text>
<text transform="translate(222.01,25.01) scale(0.1078,0.1861)" font-size="100" stroke="#000" stroke-width="1.02" stroke-linejoin="round">]</text>
<path d="M62.60,15.80 h8.00 M66.60,12.00 v7.60" stroke="#000" stroke-width="1.00" fill="none"/>
<path d="M82.00,15.80 h8.00" stroke="#000" stroke-width="1.00" fill="none"/>
<path d="M137.00,15.40 h8.00 M141.00,11.60 v7.60" stroke="#000" stroke-width="1.00" fill="none"/>
<path d="M166.00,15.40 h8.00" stroke="#000" stroke-width="1.00" fill="none"/>
<path d="M97.1,19.6 H111.8 M108.0,16.6 Q109.4,19.0 112.4,19.6 Q109.4,20.2 108.0,22.6" stroke="#000" stroke-width="1.0" fill="none"/>
<text transform="translate(241.10,160.10) scale(0.1052,0.0760)" font-size="100" letter-spacing="2.000" stroke="#000" stroke-width="1.66" stroke-linejoin="round">SM</text>
<text transform="translate(261.36,160.10) scale(0.1052,0.0760)" font-size="100" letter-spacing="2.000" stroke="#000" stroke-width="1.66" stroke-linejoin="round">unpolarized</text>
<path d="M322.9,157.60 H344.0" stroke="#f00" stroke-width="1.00" fill="none"/>
<text transform="translate(241.42,171.10) scale(0.1038,0.0760)" font-size="100" letter-spacing="2.000" stroke="#000" stroke-width="1.67" stroke-linejoin="round">ISS</text>
<text transform="translate(261.36,171.10) scale(0.1040,0.0760)" font-size="100" letter-spacing="2.000" stroke="#000" stroke-width="1.67" stroke-linejoin="round">unpolarized</text>
<path d="M322.9,168.70 H344.0" stroke="#f00" stroke-width="1.05" fill="none" stroke-dasharray="2.8 1.06"/>
<text transform="translate(241.10,182.05) scale(0.1052,0.0760)" font-size="100" letter-spacing="2.000" stroke="#000" stroke-width="1.66" stroke-linejoin="round">SM</text>
<text transform="translate(261.33,182.05) scale(0.1051,0.0760)" font-size="100" letter-spacing="2.000" stroke="#000" stroke-width="1.66" stroke-linejoin="round">polarized</text>
<path d="M322.9,179.70 H344.0" stroke="#00f" stroke-width="1.00" fill="none"/>
<text transform="translate(241.42,193.00) scale(0.1038,0.0760)" font-size="100" letter-spacing="2.000" stroke="#000" stroke-width="1.67" stroke-linejoin="round">ISS</text>
<text transform="translate(261.33,193.00) scale(0.1051,0.0760)" font-size="100" letter-spacing="2.000" stroke="#000" stroke-width="1.66" stroke-linejoin="round">polarized</text>
<path d="M322.9,190.80 H344.0" stroke="#00f" stroke-width="1.05" fill="none" stroke-dasharray="2.8 1.06"/>
<g fill="none" stroke-width="1.00">
<path d="M232.90,65.15 H334.60" stroke="#000" stroke-width="0.8"/>
<path d="M232.90,67.70 C233.04,67.79 233.44,68.06 233.72,68.24 C233.99,68.42 234.26,68.61 234.52,68.79 C234.79,68.98 235.06,69.16 235.33,69.35 C235.59,69.54 235.86,69.73 236.12,69.92 C236.38,70.11 236.65,70.30 236.91,70.50 C237.17,70.69 237.43,70.88 237.69,71.08 C237.95,71.28 238.21,71.48 238.46,71.67 C238.72,71.87 238.98,72.07 239.23,72.28 C239.49,72.48 239.74,72.68 239.99,72.89 C240.25,73.09 240.50,73.30 240.75,73.50 C241.00,73.71 241.25,73.92 241.50,74.13 C241.75,74.34 242.00,74.55 242.24,74.76 C242.49,74.97 242.74,75.18 242.98,75.40 C243.23,75.61 243.47,75.83 243.71,76.04 C243.95,76.26 244.20,76.48 244.44,76.70 C244.68,76.92 244.92,77.14 245.16,77.36 C245.40,77.58 245.63,77.80 245.87,78.02 C246.11,78.25 246.34,78.47 246.58,78.70 C246.81,78.92 247.05,79.15 247.28,79.37 C247.52,79.60 247.75,79.83 247.98,80.06 C248.21,80.29 248.44,80.52 248.67,80.75 C248.90,80.98 249.13,81.21 249.36,81.44 C249.59,81.67 249.81,81.91 250.04,82.14 C250.27,82.38 250.49,82.61 250.72,82.85 C250.94,83.08 251.17,83.32 251.39,83.56 C251.61,83.80 251.83,84.03 252.06,84.27 C252.28,84.51 252.50,84.75 252.72,84.99 C252.94,85.23 253.16,85.47 253.37,85.72 C253.59,85.96 253.81,86.20 254.03,86.45 C254.24,86.69 254.46,86.93 254.67,87.18 C254.89,87.42 255.10,87.67 255.32,87.91 C255.53,88.16 255.74,88.41 255.96,88.65 C256.17,88.90 256.38,89.15 256.59,89.40 C256.80,89.64 257.01,89.89 257.22,90.14 C257.43,90.39 257.64,90.64 257.85,90.89 C258.06,91.14 258.27,91.38 258.48,91.63 C258.69,91.88 258.90,92.13 259.11,92.38 C259.32,92.63 259.53,92.88 259.74,93.12 C259.95,93.37 260.16,93.62 260.37,93.87 C260.58,94.11 260.79,94.36 261.01,94.61 C261.22,94.85 261.43,95.10 261.65,95.34 C261.86,95.58 262.07,95.83 262.29,96.07 C262.50,96.31 262.72,96.55 262.94,96.79 C263.16,97.03 263.37,97.27 263.59,97.51 C263.81,97.75 264.04,97.98 264.26,98.22 C264.48,98.45 264.71,98.69 264.93,98.92 C265.16,99.15 265.39,99.38 265.62,99.61 C265.84,99.84 266.08,100.07 266.31,100.29 C266.54,100.52 266.78,100.74 267.02,100.96 C267.25,101.18 267.49,101.40 267.73,101.62 C267.98,101.84 268.22,102.05 268.47,102.26 C268.71,102.47 268.96,102.68 269.21,102.89 C269.47,103.10 269.72,103.30 269.98,103.51 C270.23,103.71 270.49,103.91 270.75,104.11 C271.02,104.30 271.28,104.50 271.55,104.69 C271.81,104.88 272.08,105.07 272.35,105.26 C272.62,105.45 272.89,105.63 273.17,105.81 C273.45,105.99 273.72,106.17 274.00,106.35 C274.28,106.52 274.57,106.69 274.85,106.86 C275.13,107.03 275.42,107.20 275.71,107.36 C276.00,107.52 276.29,107.68 276.58,107.84 C276.88,107.99 277.17,108.14 277.47,108.28 C277.77,108.42 278.07,108.55 278.37,108.68 C278.67,108.81 278.97,108.93 279.28,109.04 C279.58,109.15 279.89,109.26 280.20,109.35 C280.51,109.45 280.82,109.53 281.14,109.61 C281.45,109.68 281.77,109.75 282.08,109.80 C282.40,109.86 282.72,109.90 283.04,109.94 C283.36,109.97 283.68,110.00 284.00,110.01 C284.32,110.03 284.65,110.03 284.97,110.03 C285.29,110.03 285.62,110.03 285.94,110.02 C286.27,110.01 286.59,109.98 286.92,109.95 C287.24,109.92 287.56,109.88 287.89,109.84 C288.21,109.79 288.53,109.73 288.85,109.67 C289.17,109.60 289.50,109.53 289.81,109.45 C290.13,109.37 290.45,109.28 290.77,109.19 C291.08,109.09 291.40,108.99 291.71,108.88 C292.02,108.77 292.33,108.65 292.64,108.52 C292.95,108.40 293.25,108.26 293.55,108.12 C293.85,107.99 294.15,107.84 294.45,107.69 C294.75,107.53 295.04,107.37 295.33,107.21 C295.62,107.04 295.90,106.87 296.18,106.69 C296.46,106.51 296.74,106.33 297.02,106.14 C297.29,105.95 297.56,105.75 297.82,105.55 C298.09,105.35 298.35,105.14 298.60,104.92 C298.85,104.71 299.10,104.49 299.35,104.27 C299.59,104.05 299.83,103.82 300.06,103.59 C300.30,103.35 300.53,103.12 300.75,102.88 C300.98,102.64 301.20,102.40 301.41,102.15 C301.63,101.90 301.84,101.65 302.05,101.40 C302.26,101.15 302.46,100.89 302.66,100.64 C302.86,100.38 303.05,100.12 303.25,99.85 C303.44,99.59 303.63,99.33 303.81,99.06 C304.00,98.80 304.18,98.53 304.36,98.26 C304.54,98.00 304.72,97.73 304.89,97.46 C305.06,97.19 305.24,96.92 305.41,96.65 C305.58,96.37 305.74,96.10 305.91,95.83 C306.08,95.55 306.24,95.28 306.41,95.00 C306.58,94.73 306.74,94.45 306.90,94.17 C307.07,93.90 307.23,93.62 307.40,93.34 C307.56,93.06 307.72,92.78 307.88,92.50 C308.05,92.22 308.21,91.94 308.37,91.66 C308.53,91.37 308.70,91.09 308.86,90.81 C309.02,90.52 309.18,90.24 309.34,89.96 C309.50,89.67 309.66,89.39 309.83,89.10 C309.99,88.82 310.15,88.53 310.31,88.24 C310.47,87.96 310.63,87.67 310.79,87.38 C310.95,87.10 311.11,86.81 311.28,86.52 C311.44,86.23 311.60,85.94 311.76,85.66 C311.92,85.37 312.08,85.08 312.24,84.79 C312.40,84.50 312.56,84.21 312.72,83.92 C312.88,83.63 313.04,83.34 313.20,83.05 C313.36,82.76 313.52,82.47 313.68,82.17 C313.83,81.88 313.99,81.59 314.15,81.30 C314.30,81.01 314.46,80.71 314.61,80.42 C314.77,80.13 314.92,79.84 315.07,79.54 C315.23,79.25 315.38,78.96 315.53,78.66 C315.68,78.37 315.83,78.07 315.97,77.78 C316.12,77.48 316.27,77.19 316.41,76.89 C316.55,76.60 316.70,76.30 316.84,76.01 C316.98,75.71 317.12,75.41 317.26,75.12 C317.39,74.82 317.53,74.52 317.67,74.23 C317.80,73.93 317.94,73.63 318.07,73.33 C318.20,73.04 318.33,72.74 318.46,72.44 C318.59,72.14 318.72,71.84 318.85,71.54 C318.98,71.24 319.11,70.95 319.24,70.65 C319.37,70.35 319.49,70.05 319.62,69.75 C319.74,69.45 319.87,69.15 320.00,68.85 C320.12,68.55 320.25,68.24 320.37,67.94 C320.49,67.64 320.62,67.34 320.74,67.04 C320.87,66.74 320.99,66.44 321.11,66.14 C321.24,65.83 321.36,65.53 321.49,65.23 C321.61,64.93 321.74,64.62 321.86,64.32 C321.98,64.02 322.11,63.72 322.23,63.41 C322.36,63.11 322.48,62.81 322.61,62.50 C322.73,62.20 322.86,61.90 322.98,61.59 C323.11,61.29 323.23,60.98 323.35,60.68 C323.48,60.38 323.60,60.07 323.72,59.77 C323.84,59.46 323.96,59.16 324.08,58.85 C324.20,58.55 324.32,58.24 324.44,57.94 C324.56,57.63 324.68,57.33 324.79,57.02 C324.91,56.72 325.03,56.41 325.14,56.10 C325.26,55.80 325.37,55.49 325.48,55.18 C325.60,54.88 325.71,54.57 325.82,54.27 C325.93,53.96 326.04,53.65 326.15,53.35 C326.26,53.04 326.37,52.73 326.47,52.42 C326.58,52.12 326.68,51.81 326.79,51.50 C326.89,51.19 327.00,50.89 327.10,50.58 C327.20,50.27 327.31,49.96 327.41,49.66 C327.51,49.35 327.61,49.04 327.72,48.73 C327.82,48.42 327.92,48.12 328.02,47.81 C328.13,47.50 328.23,47.19 328.34,46.88 C328.44,46.57 328.55,46.26 328.65,45.96 C328.76,45.65 328.87,45.34 328.98,45.03 C329.09,44.72 329.20,44.41 329.31,44.10 C329.43,43.80 329.54,43.49 329.66,43.18 C329.78,42.87 329.90,42.56 330.02,42.25 C330.15,41.94 330.27,41.63 330.40,41.32 C330.53,41.01 330.73,40.55 330.80,40.40" stroke="#f00" stroke-width="1.05" stroke-dasharray="2.8 1.06"/>
<path d="M232.90,68.00 C233.04,68.09 233.44,68.37 233.72,68.56 C233.99,68.75 234.26,68.94 234.52,69.13 C234.79,69.32 235.06,69.51 235.33,69.70 C235.59,69.90 235.86,70.09 236.12,70.29 C236.38,70.49 236.65,70.68 236.91,70.88 C237.17,71.08 237.43,71.28 237.69,71.49 C237.95,71.69 238.21,71.89 238.46,72.10 C238.72,72.30 238.98,72.51 239.23,72.71 C239.49,72.92 239.74,73.13 239.99,73.34 C240.25,73.55 240.50,73.76 240.75,73.97 C241.00,74.19 241.25,74.40 241.50,74.62 C241.75,74.83 242.00,75.05 242.24,75.26 C242.49,75.48 242.74,75.70 242.98,75.92 C243.23,76.14 243.47,76.36 243.71,76.58 C243.95,76.80 244.20,77.03 244.44,77.25 C244.68,77.47 244.92,77.70 245.16,77.92 C245.40,78.15 245.63,78.38 245.87,78.61 C246.11,78.83 246.34,79.06 246.58,79.29 C246.81,79.52 247.05,79.75 247.28,79.99 C247.52,80.22 247.75,80.45 247.98,80.69 C248.21,80.92 248.44,81.15 248.67,81.39 C248.90,81.63 249.13,81.86 249.36,82.10 C249.59,82.34 249.81,82.58 250.04,82.82 C250.27,83.06 250.49,83.30 250.72,83.54 C250.94,83.78 251.17,84.02 251.39,84.26 C251.61,84.50 251.83,84.75 252.06,84.99 C252.28,85.23 252.50,85.48 252.72,85.73 C252.94,85.97 253.16,86.22 253.37,86.46 C253.59,86.71 253.81,86.96 254.03,87.21 C254.24,87.45 254.46,87.70 254.67,87.95 C254.89,88.20 255.10,88.45 255.32,88.70 C255.53,88.95 255.74,89.20 255.96,89.46 C256.17,89.71 256.38,89.96 256.59,90.21 C256.80,90.46 257.01,90.72 257.22,90.97 C257.43,91.22 257.64,91.48 257.85,91.73 C258.06,91.98 258.27,92.24 258.48,92.49 C258.69,92.74 258.90,93.00 259.11,93.25 C259.32,93.50 259.53,93.76 259.74,94.01 C259.95,94.26 260.16,94.51 260.37,94.77 C260.58,95.02 260.79,95.27 261.01,95.52 C261.22,95.77 261.43,96.02 261.65,96.27 C261.86,96.52 262.07,96.76 262.29,97.01 C262.50,97.26 262.72,97.50 262.94,97.75 C263.16,97.99 263.37,98.24 263.59,98.48 C263.81,98.72 264.04,98.96 264.26,99.20 C264.48,99.44 264.71,99.68 264.93,99.92 C265.16,100.15 265.39,100.39 265.62,100.62 C265.84,100.86 266.08,101.09 266.31,101.32 C266.54,101.55 266.78,101.78 267.02,102.00 C267.25,102.23 267.49,102.45 267.73,102.67 C267.98,102.89 268.22,103.11 268.47,103.33 C268.71,103.55 268.96,103.76 269.21,103.98 C269.47,104.19 269.72,104.40 269.98,104.61 C270.23,104.81 270.49,105.02 270.75,105.22 C271.02,105.42 271.28,105.62 271.55,105.82 C271.81,106.02 272.08,106.21 272.35,106.41 C272.62,106.60 272.89,106.79 273.17,106.97 C273.45,107.16 273.72,107.34 274.00,107.53 C274.28,107.71 274.57,107.89 274.85,108.06 C275.13,108.24 275.42,108.41 275.71,108.58 C276.00,108.74 276.29,108.91 276.58,109.07 C276.88,109.23 277.17,109.38 277.47,109.53 C277.77,109.67 278.07,109.81 278.37,109.95 C278.67,110.08 278.97,110.21 279.28,110.33 C279.58,110.44 279.89,110.56 280.20,110.66 C280.51,110.76 280.82,110.85 281.14,110.93 C281.45,111.01 281.77,111.08 282.08,111.14 C282.40,111.20 282.72,111.25 283.04,111.30 C283.36,111.34 283.68,111.37 284.00,111.39 C284.32,111.41 284.65,111.43 284.97,111.43 C285.29,111.43 285.62,111.43 285.94,111.41 C286.27,111.40 286.59,111.37 286.92,111.34 C287.24,111.31 287.56,111.27 287.89,111.22 C288.21,111.17 288.53,111.11 288.85,111.04 C289.17,110.98 289.50,110.90 289.81,110.82 C290.13,110.74 290.45,110.65 290.77,110.55 C291.08,110.45 291.40,110.35 291.71,110.23 C292.02,110.12 292.33,110.00 292.64,109.87 C292.95,109.74 293.25,109.61 293.55,109.47 C293.85,109.33 294.15,109.18 294.45,109.02 C294.75,108.87 295.04,108.71 295.33,108.54 C295.62,108.37 295.90,108.20 296.18,108.02 C296.46,107.84 296.74,107.65 297.02,107.46 C297.29,107.26 297.56,107.07 297.82,106.86 C298.09,106.66 298.35,106.45 298.60,106.23 C298.85,106.02 299.10,105.80 299.35,105.57 C299.59,105.35 299.83,105.12 300.06,104.89 C300.30,104.65 300.53,104.41 300.75,104.17 C300.98,103.93 301.20,103.68 301.41,103.43 C301.63,103.18 301.84,102.93 302.05,102.68 C302.26,102.42 302.46,102.16 302.66,101.90 C302.86,101.64 303.05,101.38 303.25,101.11 C303.44,100.85 303.63,100.58 303.81,100.31 C304.00,100.05 304.18,99.78 304.36,99.51 C304.54,99.24 304.72,98.97 304.89,98.70 C305.06,98.42 305.24,98.15 305.41,97.88 C305.58,97.60 305.74,97.33 305.91,97.05 C306.08,96.77 306.24,96.50 306.41,96.22 C306.58,95.94 306.74,95.66 306.90,95.38 C307.07,95.10 307.23,94.82 307.40,94.54 C307.56,94.26 307.72,93.98 307.88,93.70 C308.05,93.41 308.21,93.13 308.37,92.85 C308.53,92.56 308.70,92.28 308.86,91.99 C309.02,91.71 309.18,91.42 309.34,91.14 C309.50,90.85 309.66,90.56 309.83,90.27 C309.99,89.99 310.15,89.70 310.31,89.41 C310.47,89.12 310.63,88.83 310.79,88.54 C310.95,88.25 311.11,87.97 311.28,87.68 C311.44,87.39 311.60,87.09 311.76,86.80 C311.92,86.51 312.08,86.22 312.24,85.93 C312.40,85.64 312.56,85.35 312.72,85.06 C312.88,84.76 313.04,84.47 313.20,84.18 C313.36,83.89 313.52,83.59 313.68,83.30 C313.83,83.01 313.99,82.71 314.15,82.42 C314.30,82.12 314.46,81.83 314.61,81.53 C314.77,81.24 314.92,80.94 315.07,80.65 C315.23,80.35 315.38,80.06 315.53,79.76 C315.68,79.46 315.83,79.17 315.97,78.87 C316.12,78.58 316.27,78.28 316.41,77.98 C316.55,77.68 316.70,77.39 316.84,77.09 C316.98,76.79 317.12,76.49 317.26,76.19 C317.39,75.90 317.53,75.60 317.67,75.30 C317.80,75.00 317.94,74.70 318.07,74.40 C318.20,74.10 318.33,73.80 318.46,73.50 C318.59,73.20 318.72,72.90 318.85,72.60 C318.98,72.30 319.11,72.00 319.24,71.70 C319.37,71.40 319.49,71.09 319.62,70.79 C319.74,70.49 319.87,70.19 320.00,69.89 C320.12,69.59 320.25,69.28 320.37,68.98 C320.49,68.68 320.62,68.38 320.74,68.07 C320.87,67.77 320.99,67.47 321.11,67.16 C321.24,66.86 321.36,66.56 321.49,66.25 C321.61,65.95 321.74,65.64 321.86,65.34 C321.98,65.04 322.11,64.73 322.23,64.43 C322.36,64.12 322.48,63.82 322.61,63.51 C322.73,63.21 322.86,62.90 322.98,62.60 C323.11,62.29 323.23,61.98 323.35,61.68 C323.48,61.37 323.60,61.07 323.72,60.76 C323.84,60.45 323.96,60.15 324.08,59.84 C324.20,59.54 324.32,59.23 324.44,58.92 C324.56,58.62 324.68,58.31 324.79,58.00 C324.91,57.69 325.03,57.39 325.14,57.08 C325.26,56.77 325.37,56.46 325.48,56.16 C325.60,55.85 325.71,55.54 325.82,55.23 C325.93,54.92 326.04,54.62 326.15,54.31 C326.26,54.00 326.37,53.69 326.47,53.38 C326.58,53.07 326.68,52.77 326.79,52.46 C326.89,52.15 327.00,51.84 327.10,51.53 C327.20,51.22 327.31,50.91 327.41,50.60 C327.51,50.29 327.61,49.98 327.72,49.67 C327.82,49.36 327.92,49.05 328.02,48.75 C328.13,48.44 328.23,48.13 328.34,47.82 C328.44,47.51 328.55,47.20 328.65,46.89 C328.76,46.58 328.87,46.27 328.98,45.96 C329.09,45.65 329.20,45.34 329.31,45.03 C329.43,44.72 329.54,44.40 329.66,44.09 C329.78,43.78 329.90,43.47 330.02,43.16 C330.15,42.85 330.27,42.54 330.40,42.23 C330.53,41.92 330.73,41.45 330.80,41.30" stroke="#00f" stroke-width="1.05" stroke-dasharray="2.8 1.06"/>
</g>
<g fill="none" stroke="#000" stroke-width="1.0">
<rect x="232.90" y="41.05" width="101.70" height="72.30"/>
</g><g fill="none" stroke="#000" stroke-width="0.7">
<path d="M232.90,101.30 h4.4 M334.60,101.30 h-4.4"/>
<path d="M232.90,89.25 h4.4 M334.60,89.25 h-4.4"/>
<path d="M232.90,77.20 h4.4 M334.60,77.20 h-4.4"/>
<path d="M232.90,65.15 h4.4 M334.60,65.15 h-4.4"/>
<path d="M232.90,53.10 h4.4 M334.60,53.10 h-4.4"/>
<path d="M257.55,113.35 v-4.0 M257.55,41.05 v4.0"/>
<path d="M290.57,113.35 v-4.0 M290.57,41.05 v4.0"/>
</g>
<text transform="translate(207.71,117.05) scale(0.970,1)" font-size="14.1">0.6</text>
<text transform="translate(207.70,105.00) scale(0.970,1)" font-size="14.1">0.7</text>
<text transform="translate(207.82,92.95) scale(0.970,1)" font-size="14.1">0.8</text>
<text transform="translate(207.86,80.90) scale(0.970,1)" font-size="14.1">0.9</text>
<text transform="translate(218.38,68.85) scale(0.970,1)" font-size="14.1">1</text>
<text transform="translate(208.13,56.80) scale(0.970,1)" font-size="14.1">1.1</text>
<text transform="translate(208.06,44.75) scale(0.970,1)" font-size="14.1">1.2</text>
<text transform="translate(223.43,131.30) scale(0.970,1)" font-size="14.1">0.38</text>
<text transform="translate(251.17,131.30) scale(0.970,1)" font-size="14.1">1.5</text>
<text transform="translate(289.59,131.30) scale(0.970,1)" font-size="14.1">3</text>
<text transform="translate(333.55,131.30) scale(0.970,1)" font-size="14.1">5</text>
</g>
</svg></body></html>
